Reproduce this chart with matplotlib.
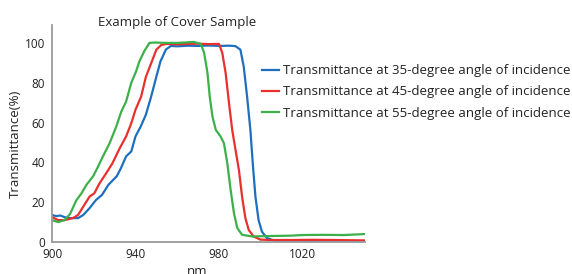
import matplotlib
matplotlib.use("Agg")
import matplotlib.pyplot as plt

# wavelength (nm) / transmittance (%)
NM_35 = [900, 902, 904, 906, 908, 910, 912.5, 915, 918, 921, 924, 927, 931, 933, 935.5, 938, 940,
         942.5, 945, 947.5, 950, 952, 954.6, 957, 960, 965, 970, 975, 980, 985, 987.9, 990.3, 991.9,
         993.5, 995.1, 996.2, 997.5, 999, 1000.6, 1003, 1007, 1015, 1025, 1035, 1050]
T_35 = [13.6, 13, 13.3, 12.5, 12, 12, 12, 13.6, 17, 21, 23.7, 28.7, 33, 37, 43, 45.5, 53,
        58, 64, 73, 83, 90.8, 96.7, 98.5, 98.3, 98.6, 98.5, 98.7, 98.5, 98.6, 98.4, 96.6, 88,
        73, 56, 39.6, 22.7, 11, 5.2, 2, 0.5, 0.3, 0.3, 0.4, 0.3]

NM_45 = [900, 903, 906, 908, 910, 912.5, 915, 918, 920.3, 922.8, 926, 929, 932.4, 935.5, 938, 940,
         942.7, 945, 947.6, 950, 952.4, 955, 960, 965, 970, 975, 980, 981.6, 983.2, 984.8, 986.4,
         988, 989.6, 991.1, 992.7, 994.3, 996.7, 999.9, 1005, 1015, 1025, 1035, 1050]
T_45 = [12.5, 11, 11, 11.5, 12, 13.6, 17.8, 22.8, 24.5, 29.5, 34.6, 39.6, 47, 53, 59.7, 66.4,
        73, 83, 90, 96.6, 99, 99.5, 99.3, 99.5, 99.6, 99.4, 99.5, 95, 85, 70, 56,
        46, 36, 22.7, 11.9, 6, 2.7, 1.2, 1, 1, 1.1, 1, 0.8]

NM_55 = [900, 903, 906, 908.6, 911.7, 914.1, 916.5, 919.7, 922, 924.4, 927.6, 930.8, 933.2, 935.5,
         938, 940.3, 941.9, 944.3, 946.7, 949, 955, 960, 965, 968, 971.3, 972.9, 974.5, 975.6,
         976.9, 978.5, 980.8, 982.4, 984, 985.6, 987.2, 988.8, 991.1, 995.9, 1005, 1015, 1020,
         1030, 1040, 1050]
T_55 = [11, 10, 11, 14, 21, 24.4, 28.7, 33, 37.7, 43, 49.6, 58, 65.5, 70.5,
        80, 85.7, 90.8, 96, 100, 100.2, 100, 100, 100.3, 100.5, 99.5, 95, 85, 73,
        63, 56.3, 53, 49.6, 39.6, 26.2, 14.5, 7, 3.6, 2.8, 3, 3.2, 3.5,
        3.6, 3.5, 4]

LABELS = [
    "Transmittance at 35-degree angle of incidence",
    "Transmittance at 45-degree angle of incidence",
    "Transmittance at 55-degree angle of incidence",
]
COLORS = ["#1f6fbf", "#e8302e", "#3cb04a"]
X_TICKS = [900, 940, 980, 1020]
Y_TICKS = [0, 20, 40, 60, 80, 100]

plt.rcParams["font.family"] = ["Open Sans", "DejaVu Sans"]
TEXT_COLOR = "#222222"

fig = plt.figure(figsize=(5.72, 2.74), dpi=100)
ax = fig.add_axes([52 / 572, 32 / 274, 313 / 572, 217 / 274])

for xs, ys, color, label in zip([NM_35, NM_45, NM_55], [T_35, T_45, T_55], COLORS, LABELS):
    ax.plot(xs, ys, color=color, lw=1.6, label=label, solid_joinstyle="round")

ax.set_xlim(900, 1050)
ax.set_ylim(0, 109)
ax.set_xticks(X_TICKS)
ax.set_yticks(Y_TICKS)
ax.tick_params(length=0, labelsize=8.5, colors=TEXT_COLOR)
ax.tick_params(axis="y", pad=5)
ax.tick_params(axis="x", pad=4)
for side in ["top", "right"]:
    ax.spines[side].set_visible(False)
for side in ["left", "bottom"]:
    ax.spines[side].set_color("#9a9a9a")
    ax.spines[side].set_linewidth(1.3)

fig.text(177 / 572, 1 - 26 / 274, "Example of Cover Sample", ha="center", va="baseline",
         fontsize=9.5, color=TEXT_COLOR)
fig.text(15 / 572, 1 - 144 / 274, "Transmittance(%)", rotation=90, ha="center", va="center",
         fontsize=9.5, color=TEXT_COLOR)
fig.text(197 / 572, 1 - 265 / 274, "nm", ha="center", va="top", fontsize=9.5, color=TEXT_COLOR)

fig.legend(loc="upper left", bbox_to_anchor=(257 / 572, 1 - 59 / 274), frameon=False,
           fontsize=9.5, handlelength=1.3, handletextpad=0.3, labelspacing=0.62,
           labelcolor=TEXT_COLOR, borderaxespad=0)

fig.savefig("out.png", dpi=100)
